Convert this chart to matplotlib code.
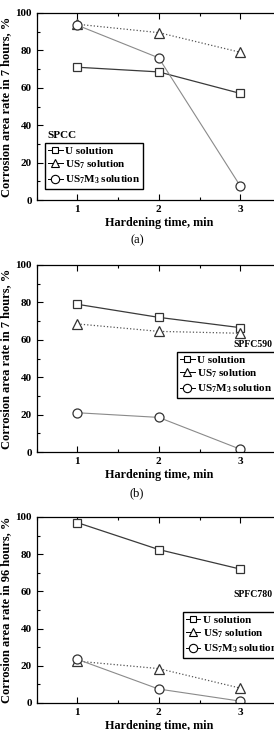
import numpy as np
import matplotlib
matplotlib.use('Agg')
import matplotlib.pyplot as plt
from matplotlib.lines import Line2D
from matplotlib.ticker import MultipleLocator

plt.rcParams['font.family'] = ['Liberation Serif', 'DejaVu Serif']
plt.rcParams['font.weight'] = 'bold'
plt.rcParams['mathtext.fontset'] = 'custom'
plt.rcParams['mathtext.rm'] = 'Liberation Serif:bold'
plt.rcParams['mathtext.bf'] = 'Liberation Serif:bold'
plt.rcParams['mathtext.it'] = 'Liberation Serif:bold'

# data
hardening_time = [1, 2, 3]
series_labels = ['U solution', r'US$_7$ solution', r'US$_7$M$_3$ solution']

spcc_u = [71, 68.5, 57]
spcc_us7 = [94, 89.5, 79]
spcc_us7m3 = [93.5, 76, 7.5]

spfc590_u = [79, 72, 66.5]
spfc590_us7 = [68.5, 64.5, 63.5]
spfc590_us7m3 = [21, 18.5, 1.5]

spfc780_u = [97, 82.5, 72]
spfc780_us7 = [22.5, 18.5, 8]
spfc780_us7m3 = [23.5, 7.5, 1]

W, H = 274, 730
fig = plt.figure(figsize=(W / 100, H / 100), dpi=100)

styles = [
    dict(marker='s', ms=5.5, color='#3a3a3a', ls='-', lw=0.9),
    dict(marker='^', ms=6.5, color='#555555', ls=':', lw=0.9),
    dict(marker='o', ms=6.5, color='#8a8a8a', ls='-', lw=0.8),
]


def panel(top_px, bottom_px, series, ylabel, grade, grade_fs, leg_xy, grade_xy, grade_ha, tag, tag_y):
    left_px, width_px = 36.5, 244.5
    ax = fig.add_axes([left_px / W, 1 - bottom_px / H, width_px / W, (bottom_px - top_px) / H])
    for vals, st in zip(series, styles):
        ax.plot(hardening_time, vals, marker=st['marker'], ms=st['ms'], mfc='white',
                mec='#333333', mew=0.9, color=st['color'], ls=st['ls'], lw=st['lw'])
    ax.set_xlim(0.5, 3.5)
    ax.set_ylim(0, 100)
    ax.xaxis.set_major_locator(MultipleLocator(1))
    ax.xaxis.set_minor_locator(MultipleLocator(0.5))
    ax.yaxis.set_major_locator(MultipleLocator(20))
    ax.yaxis.set_minor_locator(MultipleLocator(10))
    ax.tick_params(which='both', direction='in', top=True, right=True, labelsize=8, width=0.8)
    ax.tick_params(which='major', length=4)
    ax.tick_params(which='minor', length=2)
    ax.set_xticks([1, 2, 3])
    for s in ax.spines.values():
        s.set_linewidth(0.9)
    ax.set_xlabel('Hardening time, min', fontsize=8.7, fontweight='bold', labelpad=2)
    ax.set_ylabel(ylabel, fontsize=9, fontweight='bold', labelpad=2)
    ax.text(grade_xy[0], grade_xy[1], grade, transform=ax.transAxes, fontsize=grade_fs,
            fontweight='bold', ha=grade_ha, va='bottom')
    handles = [Line2D([], [], marker=st['marker'], ms=st['ms'] - 0.5, mfc='white', mec='black',
                      mew=0.8, color='black', lw=0.7) for st in styles]
    ax.legend(handles, series_labels, loc='upper left', bbox_to_anchor=leg_xy,
              handlelength=1.3, handletextpad=0.2, borderpad=0.25, labelspacing=0.25,
              borderaxespad=0, fancybox=False, framealpha=1, edgecolor='black',
              prop={'weight': 'bold', 'size': 8})
    if tag:
        fig.text(137 / W, 1 - tag_y / H, tag, fontsize=9, fontweight='normal',
                 ha='center', va='center')
    return ax


panel(13, 200, [spcc_u, spcc_us7, spcc_us7m3], 'Corrosion area rate in 7 hours, %',
      'SPCC', 8, (0.036, 0.305), (0.045, 0.32), 'left', '(a)', 240)
panel(265, 452, [spfc590_u, spfc590_us7, spfc590_us7m3], 'Corrosion area rate in 7 hours, %',
      'SPFC590', 7, (0.576, 0.535), (0.967, 0.55), 'right', '(b)', 493)
panel(517, 703, [spfc780_u, spfc780_us7, spfc780_us7m3], 'Corrosion area rate in 96 hours, %',
      'SPFC780', 7, (0.60, 0.489), (0.967, 0.56), 'right', None, None)

fig.savefig('out.png', dpi=100)
